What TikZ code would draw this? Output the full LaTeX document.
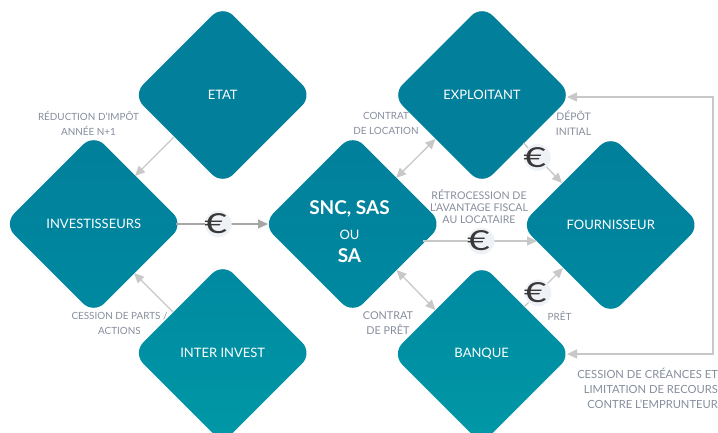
\documentclass[tikz,border=0pt]{standalone}
\usepackage{fontspec}
\setmainfont{Lato}
\usetikzlibrary{arrows.meta, shapes.geometric}

\definecolor{tealtop}{RGB}{1,127,155}
\definecolor{tealmid}{RGB}{0,137,161}
\definecolor{tealbot}{RGB}{0,152,166}
\definecolor{labelgray}{RGB}{134,141,156}
\definecolor{linegray}{RGB}{200,200,200}
\definecolor{coingray}{RGB}{238,241,246}

\newcommand{\coin}{\hspace*{-5pt}\scalebox{1.3}[0.92]{€}}

\tikzset{
  losange/.style={diamond, aspect=1, minimum width=180pt, minimum height=180pt,
    inner sep=0pt, outer sep=0pt, rounded corners=15pt, text=white,
    font=\fontsize{13}{15}\selectfont, align=center},
  rowone/.style={losange, fill=tealtop},
  rowtwo/.style={losange, top color=tealtop, bottom color=tealmid},
  rowthree/.style={losange, top color=tealmid, bottom color=tealbot},
  legende/.style={text=labelgray, inner sep=0pt, align=center,
    font=\fontsize{9.9}{15}\selectfont},
  fleche/.style={draw=linegray, line width=1.3pt, -{Triangle[length=10pt,width=9pt]}},
  doublefleche/.style={fleche, {Triangle[length=10pt,width=9pt]}-{Triangle[length=10pt,width=9pt]}},
  piece/.style={circle, fill=coingray, inner sep=0pt, minimum size=22pt, text=black!78,
    font=\fontsize{30}{30}\selectfont}
}

\begin{document}
\begin{tikzpicture}[x=1pt, y=-1pt]

\clip (0,0) rectangle (718,432);

% Diamonds
\node[rowone] (etat) at (222.7,95) {ETAT};
\node[rowone] (exploitant) at (482,95) {EXPLOITANT};
\node[rowtwo] (investisseurs) at (93.7,224) {INVESTISSEURS};
\node[rowtwo] (societe) at (352.7,224) {};
\node[rowtwo] (fournisseur) at (610.7,225) {FOURNISSEUR};
\node[rowthree] (interinvest) at (222.7,353) {INTER INVEST};
\node[rowthree] (banque) at (481.7,354) {BANQUE};

% Text of the centre diamond
\node[text=white, inner sep=0pt, align=center, font=\fontsize{13}{15}\selectfont] (societetexte) at (349.5,231.5) {{\fontsize{19}{22}\selectfont\bfseries SNC, SAS}\\[10pt]OU\\[8pt]{\fontsize{19}{22}\selectfont\bfseries SA}};

% Return line on the right
\coordinate (retour) at (713,225);
\draw[doublefleche] ([shift={(-5,2)}]exploitant.east) -| (retour) |- ([shift={(-4.7,0)}]banque.east);

% Plain arrows
\draw[fleche] ([shift={(-3.7,-3)}]etat.south west) -- ([shift={(-3.7,-3)}]investisseurs.north east);
\draw[fleche] ([shift={(-4.7,4)}]interinvest.north west) -- ([shift={(-4.7,4)}]investisseurs.south east);
\draw[doublefleche] ([shift={(-1.7,-1)}]societe.north east) -- ([shift={(-1.5,-1)}]exploitant.south west);
\draw[doublefleche] ([shift={(-1.2,1)}]societe.south east) -- ([shift={(-1.2,1)}]banque.north west);

% Arrows with a coin
\draw[fleche, draw=black!35] ([shift={(-7.7,0)}]investisseurs.east) -- node[piece, pos=0.46] (pieceA) {\coin} ([shift={(5.3,0)}]societe.west);
\draw[fleche] ([shift={(-19.7,17)}]societe.east) -- node[piece, pos=0.51] (pieceB) {\coin} ([shift={(16.3,16)}]fournisseur.west);
\draw[fleche] ([shift={(-3.5,3)}]exploitant.south east) -- node[piece, pos=0.36] (pieceC) {\coin} ([shift={(-3.7,3)}]fournisseur.north west);
\draw[fleche] ([shift={(-2.7,-2)}]banque.north east) -- node[piece, pos=0.36] (pieceD) {\coin} ([shift={(-2.7,-2)}]fournisseur.south west);

% Labels
\node[legende] (reduction) at (88.5,123.5) {RÉDUCTION D’IMPÔT\\ANNÉE N+1};
\node[legende] (cessionparts) at (119.5,323.5) {CESSION DE PARTS /\\ACTIONS};
\node[legende] (contratloc) at (386,123.5) {CONTRAT\\DE LOCATION};
\node[legende, font=\fontsize{10.4}{15}\selectfont] (depot) at (573.5,123.5) {DÉPÔT\\INITIAL};
\node[legende, font=\fontsize{10.6}{12}\selectfont] (retrocession) at (479,207) {RÉTROCESSION DE\\L'AVANTAGE FISCAL\\AU LOCATAIRE};
\node[legende, font=\fontsize{10.8}{15}\selectfont] (contratpret) at (388,323.5) {CONTRAT\\DE PRÊT};
\node[legende] (pret) at (559.5,316) {PRÊT};
\node[legende, align=right, anchor=east, font=\fontsize{11.2}{15}\selectfont] (cessioncreances) at (718,388) {CESSION DE CRÉANCES ET\\LIMITATION DE RECOURS\\CONTRE L'EMPRUNTEUR};

\end{tikzpicture}
\end{document}
